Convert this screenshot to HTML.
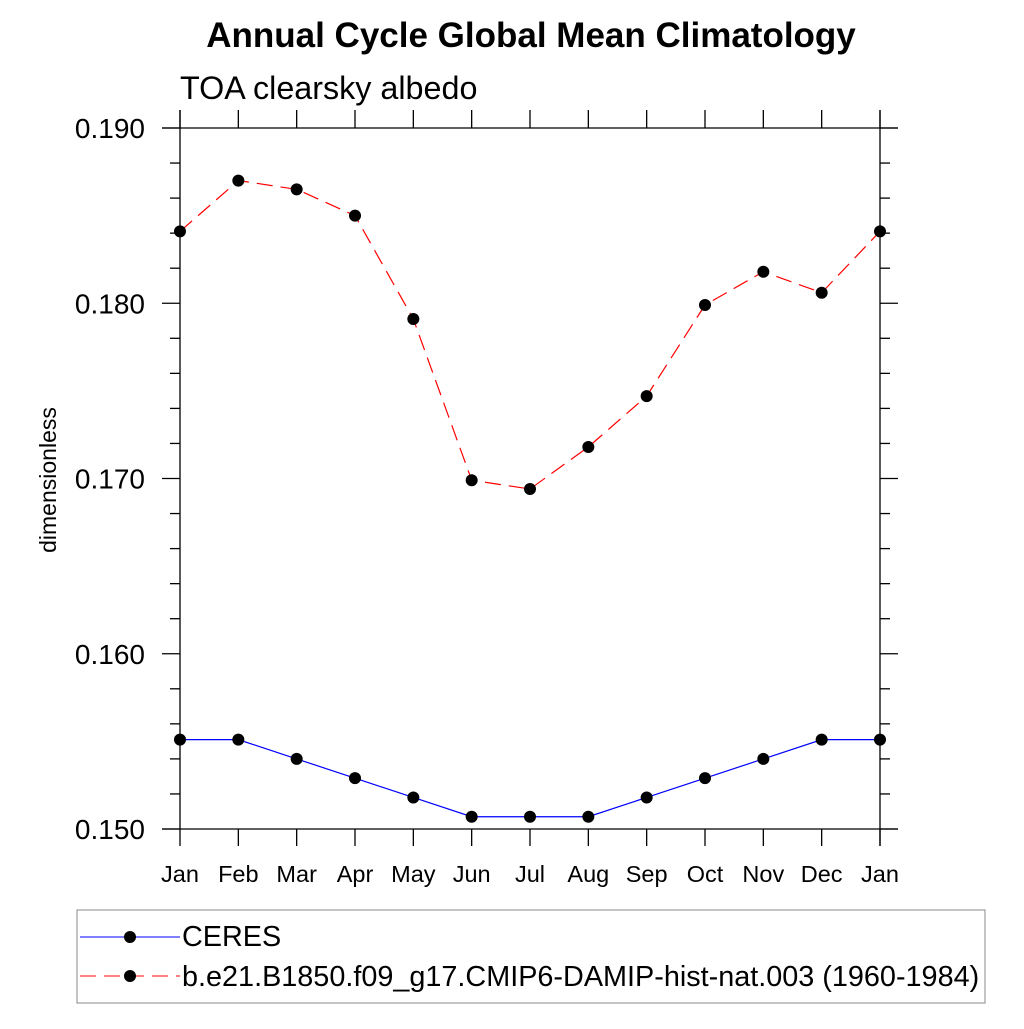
<!DOCTYPE html>
<html><head><meta charset="utf-8"><style>
body{margin:0;background:#fff}
svg text{font-family:"Liberation Sans",Arial,sans-serif}
</style></head><body>
<svg id="chart" width="1024" height="1024" viewBox="0 0 1024 1024">
<text x="531" y="47" font-size="35" font-weight="bold" text-anchor="middle">Annual Cycle Global Mean Climatology</text>
<text x="180" y="99" font-size="32.3">TOA clearsky albedo</text>
<text transform="translate(56,480) rotate(-90)" font-size="23" text-anchor="middle">dimensionless</text>
<g id="axes"></g>
<g id="series"></g>
<rect x="77" y="910" width="908" height="93" fill="none" stroke="#888" stroke-width="1"/>
<g>
<line x1="80" y1="937" x2="180" y2="937" stroke="#0000ff" stroke-width="1"/>
<circle cx="130" cy="937" r="6" fill="#000"/>
<text x="182" y="946" font-size="28.8">CERES</text>
</g>
<g>
<line x1="80" y1="976" x2="180" y2="976" stroke="#ff0000" stroke-width="1" stroke-dasharray="16,8"/>
<circle cx="130" cy="976" r="6" fill="#000"/>
<text x="182" y="986" font-size="28.8">b.e21.B1850.f09_g17.CMIP6-DAMIP-hist-nat.003 (1960-1984)</text>
</g>
</svg>
<script>
const months=["Jan","Feb","Mar","Apr","May","Jun","Jul","Aug","Sep","Oct","Nov","Dec","Jan"];
const ceres=[0.1551,0.1551,0.1540,0.1529,0.1518,0.1507,0.1507,0.1507,0.1518,0.1529,0.1540,0.1551,0.1551];
const model=[0.1841,0.1870,0.1865,0.1850,0.1791,0.1699,0.1694,0.1718,0.1747,0.1799,0.1818,0.1806,0.1841];
const yTicks=[0.150,0.160,0.170,0.180,0.190];
const yTickLabels=["0.150","0.160","0.170","0.180","0.190"];
const NS="http://www.w3.org/2000/svg";
const X0=180,X1=880,Y0=829,Y1=128,YMIN=0.150,YMAX=0.190;
const xs=i=>X0+(X1-X0)*i/(months.length-1);
const ys=v=>Y0-(v-YMIN)/(YMAX-YMIN)*(Y0-Y1);
function mk(tag,at,parent){const e=document.createElementNS(NS,tag);for(const k in at)e.setAttribute(k,at[k]);parent.appendChild(e);return e;}
const ax=document.getElementById('axes');
const L=(x1,y1,x2,y2,w)=>mk('line',{x1,y1,x2,y2,stroke:'#000','stroke-width':w||1.3},ax);
L(X0,110,X0,Y0);L(X1,110,X1,846);L(162,Y1,898,Y1);L(162,Y0,898,Y0);
for(let i=0;i<months.length;i++){const x=xs(i);L(x,Y0,x,846);L(x,Y1,x,110);
const t=mk('text',{x:x,y:882,'font-size':23.5,'text-anchor':'middle'},ax);t.textContent=months[i];

}
for(let k=0;k<=20;k++){const v=YMIN+k*0.002;const y=ys(v);const major=k%5===0;
L(major?162:170,y,X0,y);L(X1,y,major?898:890,y);}
yTicks.forEach((v,i)=>{const t=mk('text',{x:145,y:ys(v)+10,'font-size':28,'text-anchor':'end'},ax);t.textContent=yTickLabels[i];

});
const sg=document.getElementById('series');
function draw(data,color,dash,name){
const p=mk('polyline',{points:data.map((v,i)=>xs(i)+','+ys(v)).join(' '),fill:'none',stroke:color,'stroke-width':1.2,'stroke-dasharray':dash},sg);


data.forEach((v,i)=>{const c=mk('circle',{cx:xs(i),cy:ys(v),r:6,fill:'#000'},sg);

});}
draw(ceres,'#0000ff','none','ceres');
draw(model,'#ff0000','16,8','model');
</script>
</body></html>
